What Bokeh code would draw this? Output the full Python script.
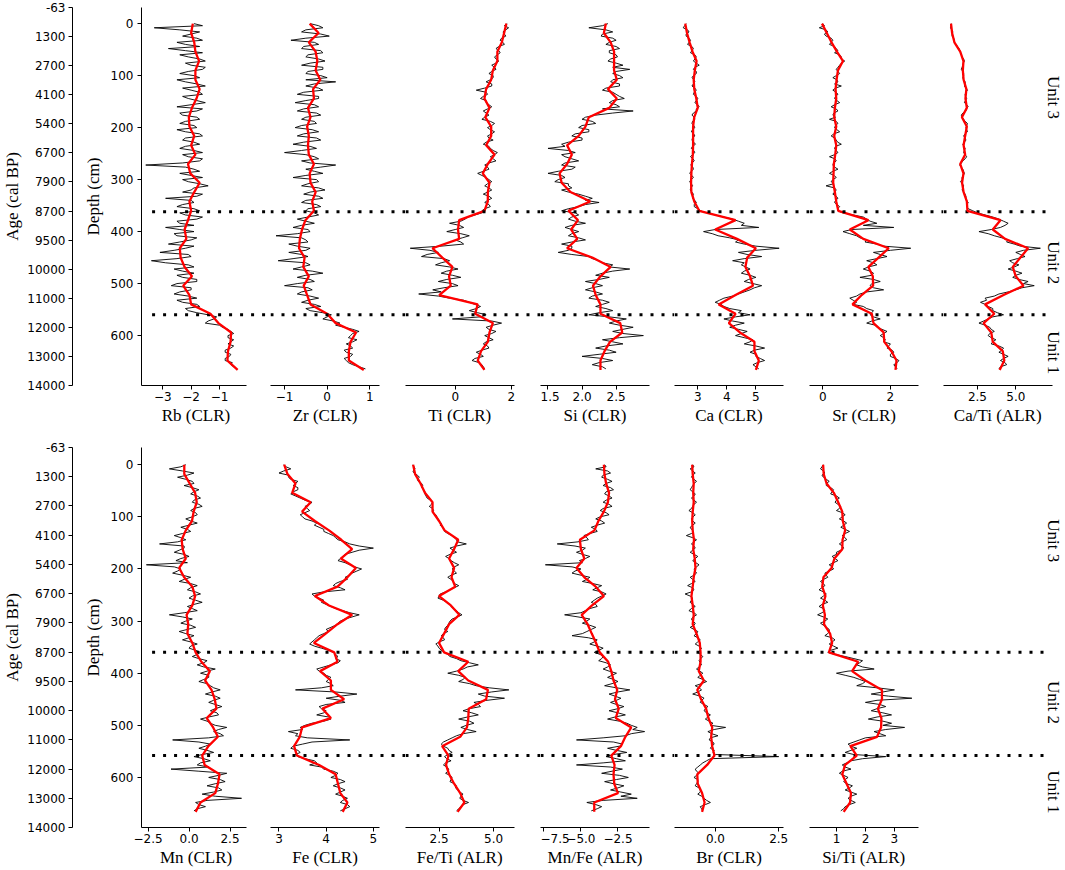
import math
from bokeh.plotting import figure
from bokeh.models import Range1d, FixedTicker, Span, LinearAxis, Title
from bokeh.layouts import row, column
from bokeh.embed import file_html
from bokeh.resources import INLINE
from bokeh.core.properties import value

# ---------------- data ----------------
depth_red = list(range(0, 667, 18))      # smoothed-curve sampling depths (cm)
depth_black_a = list(range(0, 665, 8))   # raw-curve samples, set A
depth_black_b = list(range(4, 661, 8))   # raw-curve samples, set B (in between)

age_labels = ["-63", "1300", "2700", "4100", "5400", "6700", "7900", "8700",
              "9500", "10000", "11000", "12000", "13000", "14000"]
depth_ticks = [0, 100, 200, 300, 400, 500, 600]
unit_names = ["Unit 3", "Unit 2", "Unit 1"]
unit_bounds_top = [362, 560]
unit_bounds_bottom = [360, 558]
unit_depth_top = [142, 460, 633]
unit_depth_bottom = [146, 456, 628]

rb_red = [-1.94, -2.00, -1.89, -1.85, -1.72, -1.85, -1.85, -1.70, -1.81, -1.97,
          -2.08, -2.06, -1.89, -2.00, -1.85, -2.11, -2.03, -1.70, -1.89, -2.06,
          -2.00, -2.11, -2.23, -2.17, -2.40, -2.37, -2.23, -1.97, -2.28, -2.06,
          -2.00, -1.32, -1.04, -0.59, -0.61, -0.70, -0.72, -0.36]
rb_black_a = [-1.9, -3.3, -1.7, -2.3, -1.6, -2.2, -2.8, -1.6, -2.1, -1.5,
              -2.0, -1.6, -2.4, -1.7, -2.2, -1.5, -2.0, -1.6, -2.1, -1.5,
              -2.5, -1.8, -2.3, -1.7, -2.4, -1.8, -2.2, -1.6, -2.3, -1.7,
              -2.4, -1.6, -2.1, -1.7, -3.6, -1.9, -2.4, -1.6, -2.1, -1.4,
              -2.0, -1.6, -2.9, -1.9, -2.5, -1.7, -2.2, -1.8, -2.4, -2.9,
              -1.9, -2.5, -2.0, -2.8, -2.2, -3.1, -2.0, -3.4, -2.1, -2.6,
              -1.9, -2.3, -1.8, -2.7, -2.0, -2.6, -1.8, -2.3, -1.7, -2.1,
              -1.4, -1.2, -1.5, -0.9, -0.6, -0.7, -0.5, -0.7, -0.6, -0.8,
              -0.65, -0.8, -0.6, -0.4]
rb_black_b = [-1.6, -2.4, -2.0, -1.8, -2.5, -1.7, -2.2, -2.4, -1.7, -2.2,
              -1.5, -2.1, -1.9, -2.5, -1.8, -2.3, -1.7, -2.3, -1.8, -2.0,
              -1.6, -2.4, -1.8, -2.2, -1.9, -2.5, -1.7, -2.2, -1.9, -2.2,
              -1.9, -2.3, -1.6, -2.3, -2.2, -1.7, -2.0, -2.3, -1.7, -1.9,
              -2.3, -1.8, -2.0, -2.3, -1.9, -2.4, -1.6, -2.5, -1.9, -2.4,
              -2.6, -1.8, -2.4, -1.9, -2.6, -2.1, -2.5, -2.9, -1.9, -2.3,
              -2.5, -1.8, -2.5, -2.0, -2.4, -2.1, -2.5, -1.8, -2.2, -1.8,
              -1.1, -1.4, -1.0, -0.7, -0.5, -0.7, -0.6, -0.5, -0.8, -0.6,
              -0.8, -0.55, -0.5]

zr_red = [-0.41, -0.20, -0.43, -0.27, -0.23, -0.27, -0.16, -0.33, -0.31, -0.45,
          -0.39, -0.47, -0.43, -0.45, -0.43, -0.31, -0.41, -0.39, -0.27, -0.35,
          -0.31, -0.51, -0.59, -0.64, -0.66, -0.53, -0.56, -0.43, -0.55, -0.47,
          -0.39, 0.00, 0.20, 0.68, 0.55, 0.51, 0.51, 0.86]
zr_black_a = [-0.4, -0.1, -0.6, 0.05, -0.85, -0.2, -0.6, -0.1, -0.5, -0.05,
              -0.6, -0.1, -0.5, 0.0, 0.2, -0.5, -0.1, -0.7, -0.2, -0.75,
              -0.2, -0.7, -0.15, -0.6, -0.25, -0.75, -0.2, -0.7, -0.15, -0.8,
              -0.25, -1.0, -0.3, -0.6, 0.2, -0.5, -0.1, -0.8, -0.2, -0.6,
              -0.05, -0.55, -0.1, -0.6, -0.15, -0.5, -0.2, -0.7, -0.3, -0.8,
              -0.4, -1.2, -0.5, -0.9, -0.4, -0.9, -0.45, -1.15, -0.4, -0.8,
              -0.1, -0.7, -0.3, -1.0, -0.35, -0.7, -0.2, -0.6, -0.15, -0.4,
              0.1, -0.1, 0.3, 0.4, 0.75, 0.55, 0.7, 0.45, 0.6, 0.45,
              0.55, 0.45, 0.6, 0.9]
zr_black_b = [-0.2, -0.5, -0.15, -0.5, -0.3, -0.55, -0.15, -0.45, -0.2, -0.4,
              -0.1, -0.45, -0.15, -0.5, -0.3, -0.2, -0.55, -0.2, -0.5, -0.3,
              -0.55, -0.25, -0.5, -0.3, -0.6, -0.35, -0.55, -0.25, -0.55, -0.4,
              -0.6, -0.5, -0.2, -0.4, -0.15, -0.3, -0.5, -0.25, -0.45, -0.2,
              -0.4, -0.2, -0.5, -0.25, -0.45, -0.3, -0.45, -0.5, -0.6, -0.45,
              -0.7, -0.6, -0.45, -0.7, -0.5, -0.6, -0.8, -0.5, -0.6, -0.35,
              -0.5, -0.4, -0.7, -0.45, -0.6, -0.4, -0.45, -0.3, -0.5, -0.1,
              0.0, 0.15, 0.2, 0.6, 0.6, 0.5, 0.6, 0.55, 0.4, 0.6,
              0.4, 0.5, 0.75]

ti_red = [1.82, 1.74, 1.66, 1.50, 1.50, 1.34, 1.28, 1.10, 1.04, 1.22,
          1.07, 1.28, 1.28, 1.10, 1.40, 1.16, 0.98, 1.22, 1.16, 1.16,
          1.04, 0.14, 0.10, 0.14, -0.81, -0.46, -0.10, -0.22, -0.16, -0.57,
          0.80, 0.71, 1.34, 1.22, 1.16, 0.92, 0.80, 1.04]
ti_black_a = [1.85, 1.9, 1.7, 1.8, 1.6, 1.75, 1.45, 1.6, 1.4, 1.55,
              1.3, 1.45, 1.2, 1.35, 1.1, 1.3, 0.75, 1.15, 0.9, 1.1,
              1.3, 1.0, 1.2, 0.95, 1.4, 1.15, 1.4, 1.15, 1.35, 1.0,
              1.25, 1.5, 1.25, 1.45, 1.05, 1.2, 0.8, 1.1, 1.3, 1.05,
              1.3, 1.0, 1.3, 1.05, 1.25, 0.95, 0.7, 0.35, -0.2, 0.3,
              -0.3, 0.5, 0.0, 0.3, -1.6, -0.6, -1.2, -0.2, -0.7, 0.1,
              -0.5, 0.2, -0.6, 0.1, -0.8, -1.3, -0.2, 0.5, 0.9, 0.5,
              1.1, -0.1, 1.65, 1.1, 1.45, 1.05, 1.35, 1.0, 1.2, 0.75,
              1.0, 0.6, 0.95, 1.05]
ti_black_b = [1.75, 1.8, 1.75, 1.65, 1.7, 1.55, 1.55, 1.5, 1.45, 1.45,
              1.4, 1.3, 1.35, 1.25, 1.3, 1.05, 1.1, 1.0, 1.1, 1.2,
              1.15, 1.1, 1.05, 1.25, 1.3, 1.25, 1.3, 1.2, 1.1, 1.2,
              1.35, 1.4, 1.35, 1.2, 1.15, 1.0, 0.95, 1.2, 1.15, 1.2,
              1.15, 1.2, 1.15, 1.2, 1.05, 0.95, 0.45, 0.2, 0.15, 0.0,
              0.2, 0.25, 0.2, -0.5, -0.9, -1.0, -0.4, -0.5, -0.2, -0.3,
              -0.1, -0.3, -0.1, -0.4, -0.5, -0.6, 0.3, 0.7, 0.75, 0.8,
              0.9, 1.3, 1.35, 1.2, 1.3, 1.2, 1.1, 1.15, 0.95, 0.9,
              0.7, 0.85, 1.0]

si_red = [2.35, 2.32, 2.42, 2.47, 2.47, 2.47, 2.51, 2.38, 2.51, 2.40,
          2.10, 2.05, 1.95, 1.78, 1.85, 1.78, 1.67, 1.70, 1.83, 2.12,
          1.80, 1.94, 1.84, 1.93, 1.78, 2.15, 2.42, 2.27, 2.16, 2.20,
          2.27, 2.27, 2.56, 2.59, 2.41, 2.33, 2.27, 2.27]
si_black_a = [2.38, 2.1, 2.45, 2.28, 2.5, 2.35, 2.55, 2.4, 2.52, 2.38,
              2.6, 2.7, 2.45, 2.6, 2.42, 2.55, 2.3, 2.5, 2.62, 2.4,
              2.55, 2.75, 2.2, 2.0, 2.2, 1.95, 2.1, 1.85, 2.0, 1.7,
              1.5, 1.9, 1.75, 1.95, 1.7, 1.85, 1.5, 1.75, 1.6, 1.8,
              1.7, 1.95, 2.15, 2.25, 1.95, 1.7, 1.95, 1.8, 2.05, 1.75,
              1.95, 1.8, 2.05, 1.7, 1.85, 1.65, 2.1, 2.25, 2.45, 2.7,
              2.3, 2.4, 2.05, 2.3, 2.05, 2.3, 2.1, 2.4, 2.2, 2.45,
              2.1, 2.65, 2.4, 2.75, 2.45, 2.9, 2.3, 2.6, 2.2, 2.5,
              2.0, 2.45, 2.15, 2.35]
si_black_b = [2.3, 2.35, 2.3, 2.45, 2.4, 2.5, 2.4, 2.5, 2.42, 2.5,
              2.45, 2.5, 2.55, 2.45, 2.55, 2.35, 2.45, 2.55, 2.45, 2.5,
              2.3, 2.45, 2.05, 2.15, 2.0, 2.1, 1.9, 2.0, 1.8, 1.75,
              1.8, 1.7, 1.85, 1.75, 1.9, 1.65, 1.7, 1.65, 1.8, 1.85,
              1.8, 2.05, 2.05, 2.05, 1.8, 1.9, 1.85, 1.9, 1.85, 1.85,
              1.85, 1.95, 1.85, 1.85, 1.8, 1.85, 2.15, 2.3, 2.4, 2.45,
              2.2, 2.25, 2.2, 2.15, 2.2, 2.15, 2.3, 2.3, 2.35, 2.25,
              2.4, 2.5, 2.55, 2.6, 2.6, 2.55, 2.45, 2.35, 2.4, 2.25,
              2.3, 2.25, 2.3]

ca_red = [2.57, 2.63, 2.72, 2.82, 2.96, 2.90, 2.86, 2.88, 2.95, 3.00,
          2.88, 2.84, 2.84, 2.84, 2.83, 2.80, 2.78, 2.77, 2.78, 2.88,
          3.05, 4.30, 3.60, 4.35, 5.00, 4.70, 4.64, 4.80, 4.90, 4.30,
          3.72, 4.30, 4.07, 4.45, 4.95, 4.95, 5.10, 5.00]
ca_black_a = [2.6, 2.5, 2.7, 2.6, 2.75, 2.65, 2.85, 2.75, 2.95, 2.85,
              3.05, 2.85, 2.95, 2.8, 2.9, 2.8, 2.95, 2.85, 3.0, 2.9,
              3.05, 2.95, 2.8, 2.9, 2.8, 2.9, 2.78, 2.9, 2.8, 2.92,
              2.78, 2.9, 2.75, 2.88, 2.76, 2.85, 2.72, 2.85, 2.72, 2.82,
              2.74, 2.85, 2.82, 2.95, 2.88, 3.1, 3.6, 4.2, 4.6, 5.1,
              3.2, 3.7, 4.4, 4.6, 5.8, 4.4, 5.2, 4.2, 4.5, 4.8,
              4.5, 5.0, 4.6, 5.2, 4.8, 4.4, 3.9, 3.6, 3.9, 4.5,
              4.8, 3.9, 4.6, 4.1, 4.7, 4.3, 4.9, 4.6, 5.3, 4.8,
              5.0, 5.3, 4.9, 5.1]
ca_black_b = [2.55, 2.65, 2.6, 2.7, 2.7, 2.8, 2.8, 2.9, 2.9, 2.95,
              2.9, 2.95, 2.85, 2.88, 2.85, 2.9, 2.88, 2.95, 2.95, 3.0,
              2.95, 2.85, 2.88, 2.82, 2.86, 2.82, 2.86, 2.82, 2.86, 2.82,
              2.86, 2.82, 2.84, 2.8, 2.83, 2.78, 2.8, 2.77, 2.78, 2.76,
              2.8, 2.82, 2.9, 2.88, 3.0, 3.3, 3.9, 4.4, 4.5, 3.6,
              3.5, 4.1, 4.3, 5.0, 5.0, 4.7, 4.6, 4.6, 4.65, 4.6,
              4.8, 4.75, 4.9, 4.95, 4.6, 4.2, 3.75, 3.8, 4.1, 4.4,
              4.3, 4.2, 4.3, 4.4, 4.5, 4.6, 4.8, 5.0, 4.95, 5.0,
              5.15, 5.05, 5.0]

sr_red = [-0.02, 0.12, 0.26, 0.42, 0.60, 0.45, 0.41, 0.38, 0.40, 0.36,
          0.34, 0.40, 0.34, 0.40, 0.37, 0.33, 0.32, 0.31, 0.36, 0.40,
          0.46, 1.35, 0.80, 1.20, 1.95, 1.65, 1.35, 1.48, 1.49, 1.15,
          0.88, 1.45, 1.50, 1.80, 1.82, 2.03, 2.18, 2.15]
sr_black_a = [0.0, -0.1, 0.15, 0.1, 0.3, 0.2, 0.4, 0.35, 0.55, 0.65,
              0.5, 0.4, 0.5, 0.3, 0.45, 0.55, 0.3, 0.45, 0.35, 0.5,
              0.25, 0.45, 0.3, 0.2, 0.45, 0.35, 0.5, 0.25, 0.4, 0.55,
              0.35, 0.45, 0.2, 0.4, 0.3, 0.45, 0.2, 0.4, 0.25, 0.1,
              0.4, 0.3, 0.45, 0.35, 0.5, 0.45, 0.9, 1.3, 1.6, 2.1,
              0.6, 1.0, 1.3, 1.6, 2.6, 1.5, 1.9, 1.3, 1.6, 1.2,
              1.5, 1.1, 1.7, 1.4, 1.8, 1.1, 0.8, 1.0, 1.2, 1.5,
              1.4, 1.7, 1.3, 1.6, 1.9, 1.7, 1.85, 2.0, 1.9, 2.1,
              2.0, 2.25, 2.1, 2.2]
sr_black_b = [0.05, 0.1, 0.05, 0.25, 0.25, 0.35, 0.45, 0.5, 0.55, 0.55,
              0.45, 0.45, 0.4, 0.42, 0.35, 0.38, 0.4, 0.38, 0.42, 0.35,
              0.4, 0.33, 0.38, 0.4, 0.38, 0.42, 0.33, 0.35, 0.44, 0.38,
              0.4, 0.35, 0.36, 0.32, 0.35, 0.3, 0.34, 0.3, 0.32, 0.35,
              0.35, 0.4, 0.38, 0.42, 0.44, 0.6, 1.2, 1.4, 1.2, 0.85,
              0.8, 1.1, 1.25, 1.8, 2.0, 1.7, 1.6, 1.5, 1.35, 1.4,
              1.45, 1.5, 1.45, 1.5, 1.3, 1.0, 0.9, 0.9, 1.3, 1.45,
              1.5, 1.45, 1.55, 1.75, 1.8, 1.8, 1.8, 1.95, 2.05, 2.0,
              2.15, 2.2, 2.15]

cati_red = [0.78, 0.85, 1.00, 1.38, 1.59, 1.55, 1.60, 1.78, 1.72, 1.81,
            1.49, 1.81, 1.70, 1.60, 1.70, 1.38, 1.59, 1.50, 1.60, 1.81,
            1.85, 4.00, 3.50, 4.30, 5.80, 5.30, 4.80, 5.00, 5.50, 4.20,
            3.00, 3.60, 2.90, 3.40, 3.50, 4.15, 4.25, 3.95]
cati_black_a = [0.8, 0.75, 0.9, 0.85, 1.0, 1.1, 1.3, 1.4, 1.5, 1.65,
                1.55, 1.45, 1.6, 1.55, 1.7, 1.65, 1.85, 1.7, 1.8, 1.65,
                1.9, 1.75, 1.45, 1.6, 1.85, 1.75, 1.85, 1.6, 1.75, 1.55,
                1.7, 1.6, 1.8, 1.55, 1.35, 1.55, 1.65, 1.5, 1.4, 1.6,
                1.5, 1.7, 1.75, 1.9, 1.8, 2.2, 3.0, 3.9, 4.5, 4.0,
                2.6, 3.6, 4.5, 4.9, 6.6, 5.0, 5.6, 4.6, 5.2, 4.5,
                5.4, 4.8, 5.8, 6.2, 5.0, 3.9, 3.0, 2.7, 3.2, 3.5,
                4.2, 3.2, 2.6, 3.3, 3.6, 3.2, 3.7, 3.4, 4.2, 3.9,
                4.5, 4.0, 4.4, 3.9]
cati_black_b = [0.78, 0.82, 0.85, 0.95, 1.0, 1.2, 1.35, 1.45, 1.6, 1.58,
                1.5, 1.55, 1.6, 1.6, 1.7, 1.75, 1.75, 1.72, 1.72, 1.8,
                1.75, 1.55, 1.5, 1.7, 1.8, 1.8, 1.7, 1.7, 1.65, 1.62,
                1.65, 1.7, 1.7, 1.45, 1.45, 1.6, 1.58, 1.5, 1.52, 1.55,
                1.6, 1.75, 1.8, 1.82, 1.9, 2.5, 3.5, 4.2, 4.3, 3.4,
                3.2, 4.1, 4.4, 5.3, 5.5, 5.3, 5.1, 4.8, 4.9, 5.0,
                5.0, 5.2, 5.5, 5.4, 4.5, 3.6, 3.1, 3.0, 3.5, 3.8,
                3.5, 2.9, 3.0, 3.4, 3.3, 3.4, 3.5, 3.9, 4.1, 4.2,
                4.2, 4.3, 4.0]

mn_red = [-0.29, -0.29, 0.04, 0.37, 0.47, 0.28, 0.18, -0.20, -0.45, -0.39,
          -0.20, -0.60, -0.30, 0.20, 0.37, 0.20, -0.15, -0.05, -0.10, 0.20,
          0.40, 0.75, 1.27, 0.98, 1.37, 1.57, 1.67, 1.08, 1.47, 1.76,
          1.18, 0.80, 0.95, 1.86, 1.76, 1.60, 0.70, 0.40]
mn_black_a = [-0.2, -1.2, 0.3, -0.7, 0.2, -0.3, 0.6, 0.1, 0.7, 0.2,
              0.8, 0.1, 0.5, -0.2, 0.5, -0.5, 0.1, -0.9, -0.2, -1.8,
              -0.3, -0.9, 0.0, -0.8, -2.6, -0.5, -1.0, 0.1, -0.6, 0.5,
              -0.1, 0.7, 0.0, 0.8, -0.1, 0.5, -1.2, 0.2, -0.5, 0.4,
              -0.6, 0.3, -0.4, 0.5, 0.0, 0.7, 0.2, 1.1, 0.5, 1.6,
              0.7, 1.2, 0.6, 1.3, 1.9, 1.0, 1.9, 1.2, 2.0, 1.3,
              1.8, 0.7, 1.3, 2.3, 1.5, 2.1, -1.0, 1.3, 0.6, 1.5,
              0.3, 1.3, 0.5, -1.1, 2.3, 1.2, 2.2, 1.1, 2.0, 0.8,
              3.2, 0.4, 1.0, 0.3]
mn_black_b = [-0.5, -0.4, -0.1, -0.2, 0.3, 0.2, 0.3, 0.5, 0.3, 0.6,
              0.3, 0.4, 0.2, 0.1, 0.0, -0.1, -0.4, -0.5, -0.7, -0.3,
              -0.6, -0.3, -0.5, -0.1, -0.9, -0.7, -0.4, -0.3, 0.1, 0.1,
              0.4, 0.2, 0.4, 0.3, 0.2, -0.3, -0.4, -0.2, 0.1, -0.1,
              -0.2, 0.0, 0.1, 0.1, 0.4, 0.5, 0.6, 0.9, 0.9, 1.1,
              1.2, 0.9, 1.1, 1.5, 1.4, 1.6, 1.5, 1.6, 1.6, 1.7,
              1.2, 1.1, 1.6, 1.8, 1.9, 1.2, 0.6, 1.0, 1.1, 0.8,
              0.9, 0.7, 1.2, 0.6, 1.8, 1.9, 1.6, 1.8, 1.5, 1.6,
              1.1, 0.6, 0.5]

fe_red = [3.11, 3.18, 3.35, 3.28, 3.67, 3.49, 3.76, 4.06, 4.32, 4.55,
          4.31, 4.63, 4.45, 4.24, 3.76, 4.06, 4.55, 4.24, 3.99, 3.74,
          4.17, 4.24, 3.87, 4.10, 4.10, 4.38, 3.92, 4.10, 3.49, 3.44,
          3.32, 3.38, 3.85, 4.20, 4.25, 4.30, 4.45, 4.35]
fe_black_a = [3.1, 3.25, 3.0, 3.2, 3.4, 3.3, 3.4, 3.25, 3.45, 3.7,
              3.55, 3.65, 3.45, 3.55, 3.8, 3.85, 3.95, 4.15, 4.25, 4.5,
              5.0, 4.55, 4.35, 4.25, 4.5, 4.75, 4.55, 4.4, 4.3, 4.15,
              4.4, 3.7, 3.85, 3.9, 4.1, 4.35, 4.7, 4.4, 4.25, 4.1,
              4.05, 3.85, 3.75, 3.65, 3.9, 4.15, 4.25, 4.3, 4.1, 3.8,
              3.95, 4.1, 4.0, 4.15, 3.35, 4.65, 4.0, 4.4, 3.85, 4.0,
              3.8, 4.1, 3.7, 3.45, 3.2, 3.35, 4.5, 3.5, 3.25, 3.45,
              3.4, 3.75, 3.65, 3.95, 4.25, 4.1, 4.4, 4.15, 4.4, 4.2,
              4.45, 4.3, 4.5, 4.3]
fe_black_b = [3.15, 3.1, 3.2, 3.25, 3.35, 3.4, 3.3, 3.35, 3.55, 3.65,
              3.6, 3.55, 3.5, 3.7, 3.75, 3.95, 4.05, 4.2, 4.4, 4.7,
              4.7, 4.4, 4.3, 4.4, 4.6, 4.65, 4.5, 4.45, 4.2, 4.3,
              3.95, 3.75, 3.95, 4.0, 4.2, 4.5, 4.55, 4.3, 4.2, 4.0,
              3.95, 3.8, 3.7, 3.75, 4.05, 4.2, 4.2, 4.25, 3.95, 3.85,
              4.0, 4.05, 4.1, 3.9, 4.2, 4.3, 4.3, 4.0, 3.9, 3.95,
              4.05, 3.95, 3.55, 3.5, 3.4, 3.6, 3.7, 3.3, 3.4, 3.35,
              3.55, 3.8, 3.9, 4.15, 4.2, 4.3, 4.25, 4.3, 4.3, 4.35,
              4.35, 4.45, 4.4]

feti_red = [1.31, 1.40, 1.65, 1.85, 2.20, 2.20, 2.50, 2.75, 3.38, 3.19,
            2.96, 3.19, 3.07, 3.24, 2.50, 3.04, 3.43, 2.96, 2.73, 2.50,
            2.73, 3.84, 3.38, 3.84, 4.74, 4.66, 3.86, 3.84, 3.78, 3.47,
            2.64, 2.93, 2.82, 2.96, 3.19, 3.47, 3.66, 3.35]
feti_black_a = [1.3, 1.4, 1.35, 1.6, 1.55, 1.75, 1.8, 1.85, 1.95, 2.2,
                2.05, 2.25, 2.35, 2.45, 2.6, 2.65, 2.75, 3.1, 3.3, 3.75,
                3.0, 3.3, 2.8, 3.05, 3.4, 3.1, 3.3, 2.9, 3.15, 3.4,
                3.0, 2.55, 2.45, 2.85, 3.05, 3.3, 3.55, 3.1, 2.95, 2.8,
                2.9, 2.6, 2.75, 2.35, 2.5, 2.75, 3.0, 3.5, 4.3, 3.6,
                2.9, 3.7, 3.4, 4.2, 5.7, 4.3, 5.5, 4.1, 4.4, 3.6,
                4.3, 3.4, 4.1, 3.5, 4.2, 3.3, 2.9, 2.6, 2.9, 3.1,
                2.75, 3.05, 2.7, 2.95, 2.8, 3.1, 3.0, 3.3, 3.35, 3.6,
                3.45, 3.85, 3.5, 3.3]
feti_black_b = [1.35, 1.3, 1.5, 1.5, 1.7, 1.7, 1.85, 1.9, 2.1, 2.15,
                2.2, 2.2, 2.4, 2.5, 2.55, 2.75, 2.9, 3.2, 3.35, 3.3,
                3.15, 3.0, 2.95, 3.2, 3.2, 3.2, 3.05, 3.05, 3.2, 3.2,
                2.8, 2.5, 2.7, 3.0, 3.15, 3.4, 3.35, 3.0, 2.9, 2.75,
                2.7, 2.7, 2.5, 2.45, 2.6, 2.9, 3.3, 3.9, 3.8, 3.3,
                3.4, 3.6, 3.9, 4.8, 4.9, 4.6, 4.7, 4.3, 3.9, 4.0,
                3.8, 3.9, 3.75, 3.8, 3.6, 3.1, 2.7, 2.7, 2.95, 2.9,
                2.85, 2.8, 2.85, 2.9, 3.0, 3.05, 3.2, 3.25, 3.45, 3.5,
                3.6, 3.6, 3.4]

mnfe_red = [-3.45, -3.41, -3.30, -3.10, -3.18, -3.45, -3.82, -4.09, -5.07, -5.00,
            -4.77, -5.30, -4.77, -4.00, -3.45, -4.25, -4.95, -4.55, -4.27, -3.98,
            -3.73, -3.16, -2.95, -2.80, -2.55, -2.70, -2.45, -2.65, -1.60, -2.00,
            -2.30, -2.95, -2.73, -2.80, -2.75, -2.50, -4.10, -4.10]
mnfe_black_a = [-3.4, -4.0, -3.0, -3.6, -2.9, -3.5, -2.8, -3.4, -2.9, -3.5,
                -2.9, -3.7, -3.1, -4.0, -3.4, -4.3, -3.9, -4.8, -4.5, -6.6,
                -4.7, -5.3, -4.4, -5.1, -7.4, -5.0, -5.6, -4.4, -4.9, -3.6,
                -4.2, -3.3, -3.9, -4.3, -3.9, -4.7, -6.1, -4.4, -4.9, -4.0,
                -4.6, -5.6, -3.9, -4.4, -3.5, -4.1, -3.5, -3.8, -3.0, -3.5,
                -2.6, -3.2, -2.5, -3.4, -1.7, -3.1, -2.3, -3.0, -2.1, -3.1,
                -2.0, -3.2, -1.9, -1.2, -0.7, -2.0, -5.3, -2.2, -3.2, -1.9,
                -3.3, -2.0, -5.3, -2.2, -3.6, -1.8, -3.4, -2.1, -3.0, -1.6,
                -1.2, -4.6, -3.6, -4.3]
mnfe_black_b = [-3.3, -3.2, -3.5, -3.2, -3.3, -3.0, -3.3, -3.1, -3.3, -3.1,
                -3.5, -3.3, -3.7, -3.6, -3.9, -4.0, -4.4, -4.6, -5.2, -5.4,
                -4.9, -4.9, -4.7, -4.9, -5.6, -5.4, -5.0, -4.6, -4.2, -3.9,
                -3.6, -3.6, -4.1, -4.0, -4.4, -5.0, -5.2, -4.6, -4.4, -4.3,
                -4.9, -4.5, -4.1, -3.9, -3.8, -3.7, -3.6, -3.3, -3.2, -3.1,
                -2.9, -2.8, -2.9, -2.6, -2.5, -2.7, -2.6, -2.6, -2.5, -2.5,
                -2.7, -2.4, -1.6, -1.5, -1.6, -3.5, -2.8, -2.4, -2.6, -2.8,
                -2.6, -3.5, -3.0, -2.9, -2.4, -2.6, -2.8, -2.5, -2.3, -2.3,
                -3.5, -4.0, -3.9]

br_red = [-0.92, -0.90, -0.86, -0.88, -0.86, -0.90, -0.92, -0.90, -0.85, -0.88,
          -0.82, -0.79, -0.86, -0.90, -0.95, -0.90, -0.86, -0.90, -0.75, -0.62,
          -0.59, -0.59, -0.66, -0.46, -0.72, -0.57, -0.37, -0.28, -0.13, -0.17,
          -0.13, -0.04, -0.33, -0.72, -0.70, -0.53, -0.43, -0.53]
br_black_a = [-0.9, -1.0, -0.8, -0.95, -0.75, -0.9, -1.0, -0.8, -0.95, -0.75,
              -0.9, -1.05, -0.8, -0.95, -0.8, -1.0, -0.85, -1.15, -0.75, -0.95,
              -0.8, -1.0, -0.7, -0.9, -0.65, -0.85, -0.75, -1.0, -0.8, -1.1,
              -0.85, -1.2, -0.9, -1.0, -0.8, -1.05, -0.75, -0.95, -0.8, -1.0,
              -0.7, -0.85, -0.6, -0.8, -0.55, -0.7, -0.5, -0.65, -0.55, -0.75,
              -0.5, -0.7, -0.35, -0.8, -0.55, -0.9, -0.45, -0.6, -0.3, -0.45,
              -0.2, -0.4, -0.1, 0.4, -0.3, 0.1, -0.25, -0.05, -0.2, -0.1,
              2.5, -0.35, -0.6, -0.8, -0.65, -0.85, -0.7, -0.8, -0.6, -0.7,
              -0.45, -0.2, -0.6, -0.5]
br_black_b = [-0.85, -0.9, -0.9, -0.85, -0.85, -0.95, -0.9, -0.85, -0.85, -0.85,
              -0.95, -0.9, -0.88, -0.9, -0.9, -0.95, -0.95, -0.9, -0.85, -0.85,
              -0.9, -0.85, -0.8, -0.78, -0.75, -0.8, -0.85, -0.9, -0.95, -0.9,
              -0.95, -1.0, -0.95, -0.9, -0.95, -0.85, -0.88, -0.9, -0.85, -0.85,
              -0.75, -0.7, -0.7, -0.65, -0.62, -0.6, -0.58, -0.6, -0.65, -0.62,
              -0.6, -0.5, -0.55, -0.65, -0.7, -0.6, -0.55, -0.45, -0.4, -0.35,
              -0.3, -0.25, -0.2, -0.05, -0.15, -0.2, -0.1, -0.15, -0.05, 0.0,
              -0.2, -0.5, -0.7, -0.75, -0.75, -0.7, -0.75, -0.65, -0.6, -0.55,
              -0.35, -0.4, -0.55]

siti_red = [0.54, 0.56, 0.66, 0.91, 1.06, 1.20, 1.22, 1.30, 1.21, 1.20,
            0.93, 0.83, 0.55, 0.51, 0.62, 0.53, 0.60, 0.57, 0.78, 0.85,
            0.74, 1.75, 1.54, 2.00, 2.57, 2.57, 2.43, 2.55, 2.54, 2.40,
            1.48, 1.70, 1.30, 1.20, 1.35, 1.50, 1.47, 1.25]
siti_black_a = [0.55, 0.45, 0.6, 0.55, 0.75, 0.65, 0.9, 0.8, 1.1, 0.95,
                1.15, 1.0, 1.3, 1.1, 1.35, 1.15, 1.45, 1.2, 1.35, 1.1,
                1.25, 1.0, 0.85, 1.05, 0.75, 0.9, 0.6, 0.7, 0.45, 0.6,
                0.4, 0.65, 0.45, 0.7, 0.4, 0.6, 0.35, 0.7, 0.45, 0.65,
                0.75, 0.6, 0.95, 0.75, 1.05, 0.7, 1.3, 1.9, 1.7, 2.3,
                1.0, 1.6, 2.0, 1.7, 3.0, 2.2, 3.6, 2.0, 2.7, 2.2,
                2.9, 2.1, 2.9, 3.35, 2.3, 2.7, 1.8, 1.4, 1.7, 1.3,
                2.7, 1.5, 1.2, 1.5, 1.1, 1.4, 1.25, 1.55, 1.3, 1.7,
                1.4, 1.65, 1.3, 1.15]
siti_black_b = [0.5, 0.55, 0.5, 0.65, 0.65, 0.8, 0.85, 1.0, 1.0, 1.05,
                1.1, 1.2, 1.2, 1.25, 1.25, 1.3, 1.3, 1.3, 1.2, 1.2,
                1.15, 1.0, 0.95, 0.9, 0.85, 0.75, 0.65, 0.55, 0.55, 0.5,
                0.55, 0.55, 0.6, 0.5, 0.55, 0.5, 0.55, 0.6, 0.55, 0.75,
                0.7, 0.85, 0.85, 0.9, 0.8, 0.95, 1.6, 1.8, 1.9, 1.4,
                1.3, 1.8, 1.9, 2.4, 2.6, 2.8, 2.4, 2.5, 2.4, 2.6,
                2.4, 2.6, 2.6, 2.7, 2.5, 2.0, 1.6, 1.5, 1.5, 1.6,
                1.9, 1.35, 1.3, 1.2, 1.25, 1.3, 1.35, 1.45, 1.5, 1.5,
                1.5, 1.45, 1.25]

# ---------------- panel configuration (axis spans, ticks) ----------------
top_panels = [
    ("Rb (CLR)", rb_red, rb_black_a, rb_black_b, -3.75, -0.05, [-3, -2, -1], ["\u22123", "\u22122", "\u22121"]),
    ("Zr (CLR)", zr_red, zr_black_a, zr_black_b, -1.33, 1.23, [-1, 0, 1], ["\u22121", "0", "1"]),
    ("Ti (CLR)", ti_red, ti_black_a, ti_black_b, -1.77, 2.11, [0, 2], ["0", "2"]),
    ("Si (CLR)", si_red, si_black_a, si_black_b, 1.39, 2.99, [1.5, 2.0, 2.5], ["1.5", "2.0", "2.5"]),
    ("Ca (CLR)", ca_red, ca_black_a, ca_black_b, 2.20, 5.95, [3, 4, 5], ["3", "4", "5"]),
    ("Sr (CLR)", sr_red, sr_black_a, sr_black_b, -0.39, 2.83, [0, 2], ["0", "2"]),
    ("Ca/Ti (ALR)", cati_red, cati_black_a, cati_black_b, 0.29, 7.39, [2.5, 5.0], ["2.5", "5.0"]),
]
bottom_panels = [
    ("Mn (CLR)", mn_red, mn_black_a, mn_black_b, -2.90, 3.50, [-2.5, 0.0, 2.5], ["\u22122.5", "0.0", "2.5"]),
    ("Fe (CLR)", fe_red, fe_black_a, fe_black_b, 2.82, 5.13, [3, 4, 5], ["3", "4", "5"]),
    ("Fe/Ti (ALR)", feti_red, feti_black_a, feti_black_b, 0.96, 5.96, [2.5, 5.0], ["2.5", "5.0"]),
    ("Mn/Fe (ALR)", mnfe_red, mnfe_black_a, mnfe_black_b, -7.73, -0.37, [-7.5, -5.0, -2.5], ["\u22127.5", "\u22125.0", "\u22122.5"]),
    ("Br (CLR)", br_red, br_black_a, br_black_b, -1.62, 2.69, [0.0, 2.5], ["0.0", "2.5"]),
    ("Si/Ti (ALR)", siti_red, siti_black_a, siti_black_b, 0.07, 3.83, [1, 2, 3], ["1", "2", "3"]),
]

# ---------------- layout constants ----------------
AXIS_PX = 109
TOP_FRAMES = [134, 135, 135, 134, 135, 134, 121]
BOT_FRAMES = [134, 135, 135, 134, 135, 255]
AGE_W = 80
AGE_BORDER = 70
DEPTH_BORDER = 56
DOT_START_PX = 11
DOT_END_PAGE = 1047
TEXT_PAGE = 1053
TICK_FONT = "DejaVu Sans"
LABEL_FONT = "Liberation Serif"
LABEL_SIZE = 17
# Times-like advance widths (1/1000 em) used to centre the x labels under each axis
SERIF_W = {"R": 667, "b": 500, " ": 250, "(": 333, "C": 667, "L": 611, ")": 333,
           "Z": 611, "r": 333, "T": 611, "i": 278, "S": 556, "a": 444, "/": 278,
           "A": 722, "M": 889, "n": 500, "F": 556, "e": 444, "B": 667}


def text_w(s):
    return sum(SERIF_W.get(c, 500) for c in s) * LABEL_SIZE / 1000.0


def merge(a, b):
    out = []
    for i, v in enumerate(a):
        out.append(v)
        if i < len(b):
            out.append(b[i])
    return out


depth_black = merge(depth_black_a, depth_black_b)


def style_axis(ax, label_standoff=3, axis_label_standoff=2):
    ax.axis_line_color = "black"
    ax.axis_line_width = 1
    ax.major_tick_in = 0
    ax.major_tick_out = 4
    ax.major_tick_line_color = "black"
    ax.minor_tick_line_color = None
    ax.major_label_text_font = TICK_FONT
    ax.major_label_text_font_size = "12px"
    ax.major_label_text_color = "black"
    ax.major_label_standoff = label_standoff
    ax.axis_label_text_font = LABEL_FONT
    ax.axis_label_text_font_size = "%dpx" % LABEL_SIZE
    ax.axis_label_text_font_style = "normal"
    ax.axis_label_text_color = "black"
    ax.axis_label_standoff = axis_label_standoff


def blank_fig(width, height, xr, yr, top, bottom, left=0):
    p = figure(width=width, height=height, x_range=xr, y_range=yr,
               output_backend="svg", toolbar_location=None,
               x_axis_location=None, y_axis_location=None,
               min_border_left=left, min_border_right=0,
               min_border_top=top, min_border_bottom=bottom)
    p.outline_line_color = None
    p.background_fill_color = "white"
    p.border_fill_color = "white"
    for g in p.grid:
        g.visible = False
    return p


def build_row(panels, frames, bounds, unit_depths, height, top, bottom, yr_top):
    figs = []
    age = blank_fig(AGE_W, height, Range1d(0, 1), Range1d(13, 0), top, bottom, left=AGE_BORDER)
    aax = LinearAxis(ticker=FixedTicker(ticks=list(range(len(age_labels)))),
                     axis_label="Age (cal BP)")
    style_axis(aax, label_standoff=3, axis_label_standoff=2)
    aax.major_label_overrides = {i: s for i, s in enumerate(age_labels)}
    age.add_layout(aax, "left")
    figs.append(age)

    page_x = AGE_W + DEPTH_BORDER
    n = len(panels)
    for i, (label, red, black_a, black_b, lo, hi, ticks, tlabels) in enumerate(panels):
        fw = frames[i]
        first = i == 0
        last = i == n - 1
        span_per_px = (hi - lo) / AXIS_PX
        xr = Range1d(lo, lo + span_per_px * fw)
        yr = Range1d(696, yr_top)
        w = fw + (DEPTH_BORDER if first else 0)
        p = blank_fig(w, height, xr, yr, top, bottom,
                      left=DEPTH_BORDER if first else 0)
        ax = LinearAxis(ticker=FixedTicker(ticks=ticks), bounds=(lo, hi))
        style_axis(ax, label_standoff=2, axis_label_standoff=0)
        ax.major_label_overrides = {t: s for t, s in zip(ticks, tlabels)}
        p.add_layout(ax, "below")
        ttl = Title(text=label, align="left", offset=AXIS_PX / 2.0 - text_w(label) / 2.0,
                    text_font=LABEL_FONT, text_font_size="%dpx" % LABEL_SIZE,
                    text_font_style="normal", text_color="black", standoff=0)
        p.add_layout(ttl, "below")
        if first:
            dax = LinearAxis(ticker=FixedTicker(ticks=depth_ticks), axis_label="Depth (cm)")
            style_axis(dax, label_standoff=4, axis_label_standoff=5)
            p.add_layout(dax, "left")
        if first or last:
            x0 = lo + span_per_px * (DOT_START_PX if first else 0)
            x1 = lo + span_per_px * ((DOT_END_PAGE - page_x) if last else fw)
            p.segment(x0=[x0] * len(bounds), x1=[x1] * len(bounds), y0=bounds, y1=bounds,
                      line_color="black", line_width=3, line_dash="3 8")
        else:
            for b in bounds:
                p.add_layout(Span(location=b, dimension="width", line_color="black",
                                  line_width=3, line_dash="3 8"))
        p.line(merge(black_a, black_b), depth_black, line_color="black", line_width=0.9)
        p.line(red, depth_red, line_color="red", line_width=2.3)
        if last:
            xt = lo + span_per_px * (TEXT_PAGE - page_x)
            p.text(x=[xt] * len(unit_names), y=unit_depths, text=unit_names,
                   angle=-math.pi / 2, text_align="center", text_baseline="middle",
                   text_font=value(LABEL_FONT), text_font_size=value("%dpx" % LABEL_SIZE),
                   text_color="black")
        figs.append(p)
        page_x += fw
    return row(*figs)


top_row = build_row(top_panels, TOP_FRAMES, unit_bounds_top, unit_depth_top,
                    height=437, top=7, bottom=52, yr_top=-31)
bottom_row = build_row(bottom_panels, BOT_FRAMES, unit_bounds_bottom, unit_depth_bottom,
                       height=432, top=10, bottom=42, yr_top=-33)
layout = column(top_row, bottom_row)

open("out.html", "w").write(file_html(layout, INLINE))
